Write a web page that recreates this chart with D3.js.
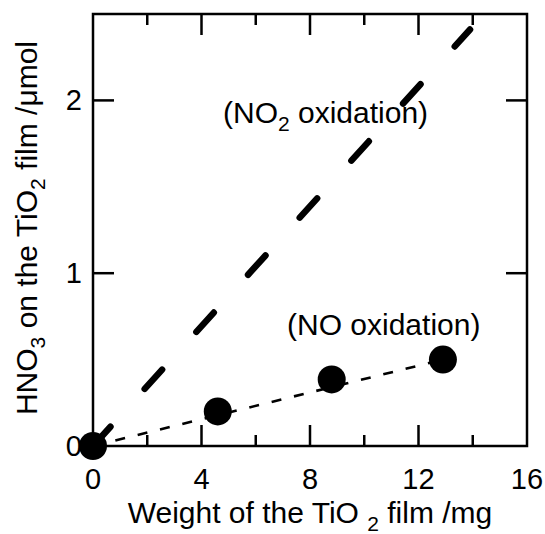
<!DOCTYPE html>
<html>
<head>
<meta charset="utf-8">
<script src="https://cdn.jsdelivr.net/npm/d3@7"></script>
<style>
  body { margin: 0; background: #fff; }
  svg { display: block; font-family: "Liberation Sans", Arial, sans-serif; }
</style>
</head>
<body>
<svg id="chart" width="545" height="534"></svg>
<script>
'use strict';

// данные: окисление NO (точки) и NO2 (линия)
const noWeight = [0, 4.6, 8.8, 12.9];
const noHno3 = [0, 0.2, 0.385, 0.5];
const noFit = [[0, 0], [12.9, 0.5]];
const no2Line = [[0, 0], [13.9, 2.41]];

// подписи делений
const xMajor = [0, 4, 8, 12, 16];
const xMinor = [2, 6, 10, 14];
const yMajor = [0, 1, 2];

const svg = d3.select('#chart');
const plotLeft = 93, plotRight = 527, plotTop = 14, plotBottom = 446;

const x = d3.scaleLinear().domain([0, 16]).range([plotLeft, plotRight]);
const y = d3.scaleLinear().domain([0, 2.5]).range([plotBottom, plotTop]);

// рамка
svg.append('rect')
  .attr('x', plotLeft).attr('y', plotTop)
  .attr('width', plotRight - plotLeft).attr('height', plotBottom - plotTop)
  .attr('fill', 'none').attr('stroke', '#000').attr('stroke-width', 2.5);

// деления внутрь, снизу и сверху
const tickGroup = svg.append('g').attr('stroke', '#000').attr('stroke-width', 2.5);
const addXTicks = (values, len) => {
  values.forEach(v => {
    tickGroup.append('line').attr('x1', x(v)).attr('x2', x(v)).attr('y1', plotBottom).attr('y2', plotBottom - len);
    tickGroup.append('line').attr('x1', x(v)).attr('x2', x(v)).attr('y1', plotTop).attr('y2', plotTop + len);
  });
};
addXTicks(xMajor.slice(1, -1), 21);
addXTicks(xMinor, 11);
yMajor.slice(1).forEach(v => {
  tickGroup.append('line').attr('x1', plotLeft).attr('x2', plotLeft + 21).attr('y1', y(v)).attr('y2', y(v));
  tickGroup.append('line').attr('x1', plotRight).attr('x2', plotRight - 21).attr('y1', y(v)).attr('y2', y(v));
});

// подписи делений
svg.selectAll('.xlab')
  .data(xMajor)
  .enter()
  .append('text')
  .attr('x', d => x(d))
  .attr('y', 489)
  .attr('text-anchor', 'middle')
  .attr('font-size', 29)
  .text(d => d);

svg.selectAll('.ylab')
  .data(yMajor)
  .enter()
  .append('text')
  .attr('x', 82)
  .attr('y', d => y(d) + 10)
  .attr('text-anchor', 'end')
  .attr('font-size', 29)
  .text(d => d);

// линия NO2 (толстый пунктир)
const line = d3.line().x(d => x(d[0])).y(d => y(d[1]));
svg.append('path')
  .attr('d', line(no2Line))
  .attr('fill', 'none')
  .attr('stroke', '#000')
  .attr('stroke-width', 6.5)
  .attr('stroke-linecap', 'round')
  .attr('stroke-dasharray', '26,51');

// линия NO (тонкий пунктир)
svg.append('path')
  .attr('d', line(noFit))
  .attr('fill', 'none')
  .attr('stroke', '#000')
  .attr('stroke-width', 2.6)
  .attr('stroke-dasharray', '10,13');

// точки
svg.selectAll('circle')
  .data(noWeight)
  .enter()
  .append('circle')
  .attr('cx', d => x(d))
  .attr('cy', (d, i) => y(noHno3[i]))
  .attr('r', 14)
  .attr('fill', '#000');

// аннотации
const no2Text = svg.append('text').attr('x', 223).attr('y', 123).attr('font-size', 30);
no2Text.append('tspan').text('(NO');
no2Text.append('tspan').attr('dy', 8).attr('font-size', 21).text('2');
no2Text.append('tspan').attr('dy', -8).text(' oxidation)');

svg.append('text').attr('x', 287).attr('y', 335).attr('font-size', 30).text('(NO oxidation)');

// подпись оси X
const xTitle = svg.append('text').attr('x', 310).attr('y', 523).attr('text-anchor', 'middle').attr('font-size', 30);
xTitle.append('tspan').text('Weight of the TiO ');
xTitle.append('tspan').attr('dy', 8).attr('font-size', 21).text('2');
xTitle.append('tspan').attr('dy', -8).text(' film /mg');

// подпись оси Y
const yTitle = svg.append('text')
  .attr('transform', 'translate(37,228) rotate(-90)')
  .attr('text-anchor', 'middle')
  .attr('font-size', 30);
yTitle.append('tspan').text('HNO');
yTitle.append('tspan').attr('dy', 8).attr('font-size', 21).text('3');
yTitle.append('tspan').attr('dy', -8).text(' on the TiO');
yTitle.append('tspan').attr('dy', 8).attr('font-size', 21).text('2');
yTitle.append('tspan').attr('dy', -8).text(' film /\u03bcmol');
</script>
</body>
</html>
